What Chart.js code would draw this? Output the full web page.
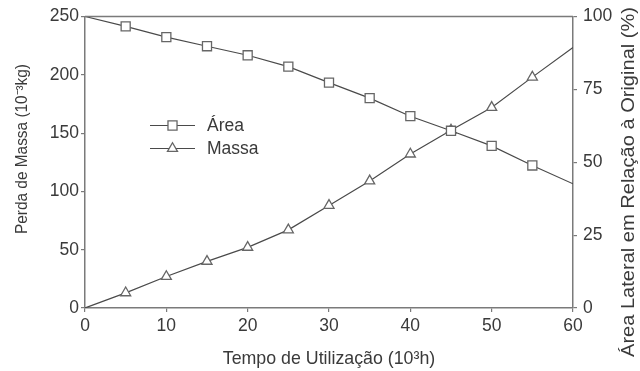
<!DOCTYPE html>
<html>
<head>
<meta charset="utf-8">
<script src="https://cdn.jsdelivr.net/npm/chart.js@4.4.1/dist/chart.umd.min.js"></script>
<style>
  html, body { margin: 0; padding: 0; background: #fff; }
  #wrap { width: 640px; height: 371px; }
</style>
</head>
<body>
<div id="wrap"><canvas id="c" width="640" height="371"></canvas></div>
<script>
// ---- data ----
const timeKh = [0, 5, 10, 15, 20, 25, 30, 35, 40, 45, 50, 55, 60];
const areaPct = [100, 96.6, 92.9, 89.8, 86.7, 82.8, 77.3, 72.0, 65.8, 60.8, 55.6, 48.9, 42.6];
const massLossKg = [0, 13, 27, 40, 52, 67, 88, 109, 132, 152.5, 172, 198, 223.5];

const xTickValues = [0, 10, 20, 30, 40, 50, 60];
const massTickValues = [0, 50, 100, 150, 200, 250];
const areaTickValues = [0, 25, 50, 75, 100];

const seriesLabels = ['Área', 'Massa'];
const xTitle = 'Tempo de Utilização (10³h)';
const yTitle = 'Perda de Massa (10⁻³kg)';
const y1Title = 'Área Lateral em Relação à Original (%)';

// ---- styling ----
const FONT = '"Liberation Sans", Arial, sans-serif';
const AXIS = '#7a7a7a';
const TEXT = '#3a3a3a';
const LINE = '#4a4a4a';
const MARK = '#666666';

function toPoints(xs, ys) { return xs.map((x, i) => ({ x: x, y: ys[i] })); }
function endlessRadius(r) {
  return ctx => (ctx.dataIndex === 0 || ctx.dataIndex === ctx.dataset.data.length - 1) ? 0 : r;
}
function setTicks(values) {
  return scale => { scale.ticks = values.map(v => ({ value: v })); };
}

const framePlugin = {
  id: 'frame',
  afterDatasetsDraw(chart) {
    const { ctx, chartArea: a } = chart;
    ctx.save();
    ctx.strokeStyle = AXIS;
    ctx.lineWidth = 1.5;
    ctx.beginPath();
    ctx.moveTo(a.left, a.top);
    ctx.lineTo(a.right, a.top);
    ctx.stroke();
    ctx.restore();
  }
};

// vertical axis titles, both read bottom-to-top as in the reference
function drawVerticalTitle(ctx, text, cx, cy, targetLen, size) {
  ctx.save();
  ctx.translate(cx, cy);
  ctx.rotate(-Math.PI / 2);
  ctx.font = size + 'px ' + FONT;
  const w = ctx.measureText(text).width;
  ctx.scale(targetLen / w, 1);
  ctx.fillStyle = TEXT;
  ctx.textAlign = 'center';
  ctx.textBaseline = 'middle';
  ctx.fillText(text, 0, 0);
  ctx.restore();
}
const titlesPlugin = {
  id: 'yTitles',
  afterDraw(chart) {
    const ctx = chart.ctx;
    drawVerticalTitle(ctx, yTitle, 23, 149, 170, 16);
    drawVerticalTitle(ctx, y1Title, 629, 182, 350, 18.5);
  }
};

const legendPlugin = {
  id: 'lineLegend',
  afterDraw(chart) {
    const { ctx, chartArea: a } = chart;
    const x0 = a.left + 65, x1 = a.left + 110, xm = (x0 + x1) / 2, xt = a.left + 122;
    const rows = [a.top + 109, a.top + 132];
    ctx.save();
    chart.data.datasets.forEach((ds, i) => {
      const y = rows[i];
      ctx.strokeStyle = ds.borderColor;
      ctx.lineWidth = ds.borderWidth;
      ctx.beginPath();
      ctx.moveTo(x0, y); ctx.lineTo(x1, y);
      ctx.stroke();
      ctx.fillStyle = ds.pointBackgroundColor;
      ctx.strokeStyle = ds.pointBorderColor;
      ctx.lineWidth = ds.pointBorderWidth;
      Chart.helpers.drawPoint(ctx, { pointStyle: ds.pointStyle, radius: ds.legendRadius, borderWidth: ds.pointBorderWidth, rotation: 0 }, xm, y);
      ctx.fillStyle = TEXT;
      ctx.font = '17.5px ' + FONT;
      ctx.textBaseline = 'middle';
      ctx.textAlign = 'left';
      ctx.fillText(ds.label, xt, y + 1);
    });
    ctx.restore();
  }
};

new Chart(document.getElementById('c'), {
  type: 'line',
  data: {
    datasets: [
      {
        label: seriesLabels[0],
        data: toPoints(timeKh, areaPct),
        yAxisID: 'y1',
        borderColor: LINE,
        borderWidth: 1.2,
        pointStyle: 'rect',
        pointRadius: endlessRadius(6.4),
        legendRadius: 6.4,
        pointBackgroundColor: '#ffffff',
        pointBorderColor: MARK,
        pointBorderWidth: 1.3,
        tension: 0
      },
      {
        label: seriesLabels[1],
        data: toPoints(timeKh, massLossKg),
        yAxisID: 'y',
        borderColor: LINE,
        borderWidth: 1.2,
        pointStyle: 'triangle',
        pointRadius: endlessRadius(5.8),
        legendRadius: 5.8,
        pointBackgroundColor: '#ffffff',
        pointBorderColor: MARK,
        pointBorderWidth: 1.3,
        tension: 0
      }
    ]
  },
  options: {
    responsive: false,
    animation: false,
    devicePixelRatio: 1,
    layout: { padding: { top: 15, left: 0, right: 0, bottom: 0 } },
    plugins: { legend: { display: false }, tooltip: { enabled: false } },
    scales: {
      x: {
        type: 'linear',
        min: 0, max: 60,
        afterBuildTicks: setTicks(xTickValues),
        afterFit: s => { s.height = 63; },
        border: { color: AXIS, width: 1.5 },
        grid: { display: true, drawOnChartArea: false, drawTicks: true, tickLength: 4, color: AXIS, lineWidth: 1.2 },
        ticks: { color: TEXT, font: { family: FONT, size: 17.5 }, padding: 4, maxRotation: 0 },
        title: { display: true, text: xTitle, color: TEXT, font: { family: FONT, size: 17.8 }, padding: { top: 0, bottom: 1 } }
      },
      y: {
        type: 'linear',
        position: 'left',
        min: 0, max: 250,
        afterBuildTicks: setTicks(massTickValues),
        afterFit: s => { s.width = 85; },
        border: { color: AXIS, width: 1.5 },
        grid: { display: true, drawOnChartArea: false, drawTicks: true, tickLength: 4, color: AXIS, lineWidth: 1.2 },
        ticks: { color: TEXT, font: { family: FONT, size: 17.5 }, padding: 2 },
        title: { display: false }
      },
      y1: {
        type: 'linear',
        position: 'right',
        min: 0, max: 100,
        afterBuildTicks: setTicks(areaTickValues),
        afterFit: s => { s.width = 67; },
        border: { color: AXIS, width: 1.5 },
        grid: { display: true, drawOnChartArea: false, drawTicks: true, tickLength: 4, color: AXIS, lineWidth: 1.2 },
        ticks: { color: TEXT, font: { family: FONT, size: 17.5 }, padding: 6 },
        title: { display: false }
      }
    }
  },
  plugins: [framePlugin, titlesPlugin, legendPlugin]
});
</script>
</body>
</html>
